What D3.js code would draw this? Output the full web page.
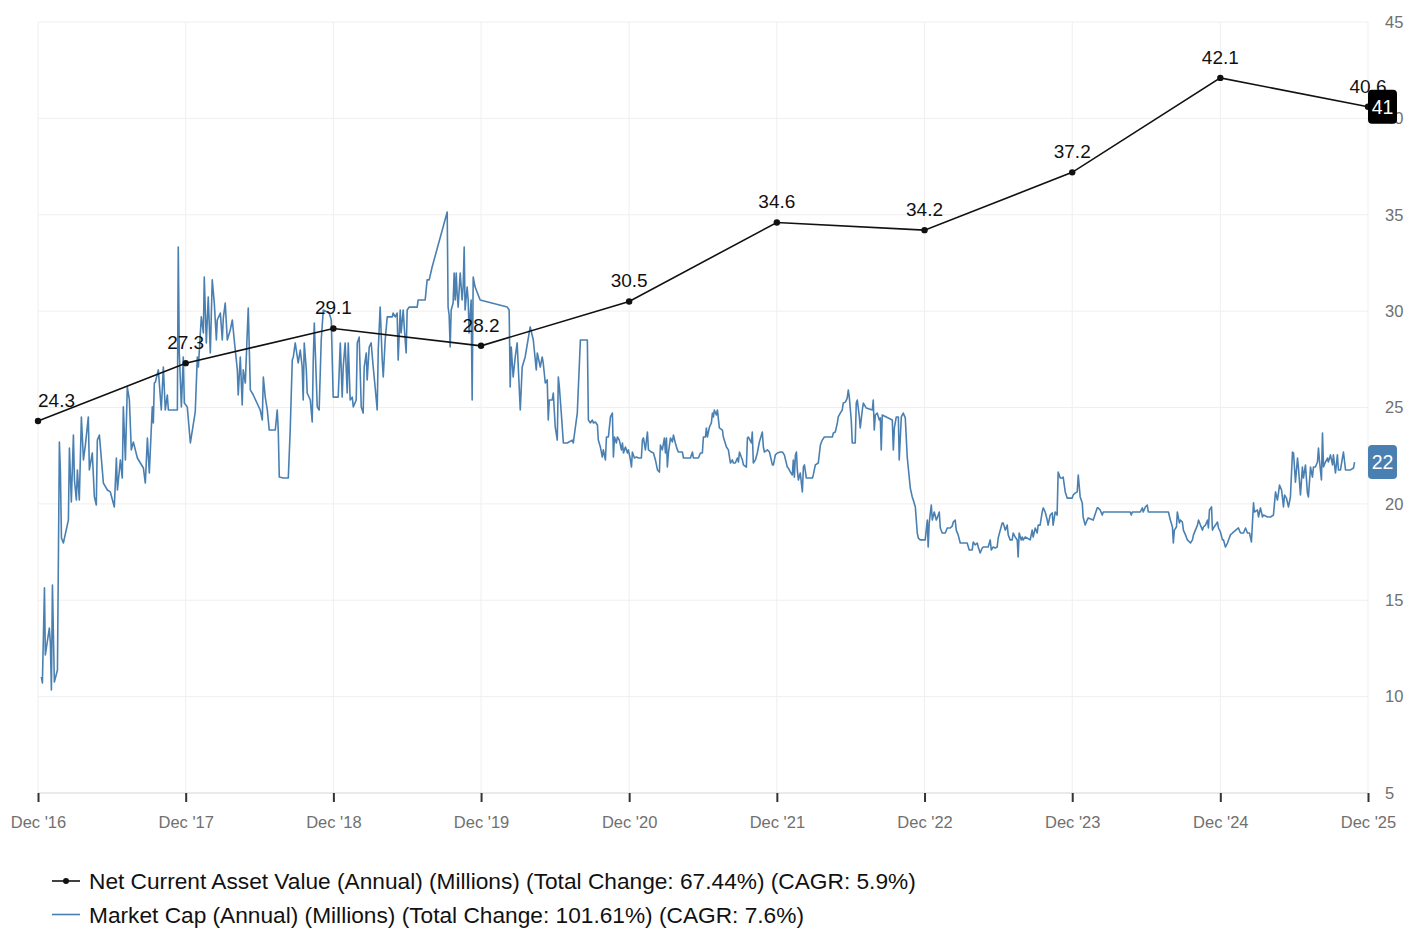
<!DOCTYPE html>
<html>
<head>
<meta charset="utf-8">
<script src="https://cdn.jsdelivr.net/npm/d3@7"></script>
<style>
html,body{margin:0;padding:0;background:#fff;}
svg{display:block;font-family:"Liberation Sans",Arial,Helvetica,sans-serif;}
</style>
</head>
<body>
<svg id="chart" width="1420" height="938"></svg>
<script>
// ---- Data ----
const ncavDates = ["2016-12-31","2017-12-31","2018-12-31","2019-12-31","2020-12-31","2021-12-31","2022-12-31","2023-12-31","2024-12-31","2025-12-31"];
const ncavValues = [24.3, 27.3, 29.1, 28.2, 30.5, 34.6, 34.2, 37.2, 42.1, 40.6];
const xTickLabels = ["Dec '16","Dec '17","Dec '18","Dec '19","Dec '20","Dec '21","Dec '22","Dec '23","Dec '24","Dec '25"];
const yTickValues = [5, 10, 15, 20, 25, 30, 35, 40, 45];
const legendLabels = [
  "Net Current Asset Value (Annual) (Millions) (Total Change: 67.44%) (CAGR: 5.9%)",
  "Market Cap (Annual) (Millions) (Total Change: 101.61%) (CAGR: 7.6%)"
];
const ncavBadge = "41";
const mcBadge = "22";

// market cap: decimal-year time stamps and values (millions)
const mcYears = [
2017.020,2017.027,2017.041,2017.047,2017.074,2017.081,2017.088,2017.095,2017.108,2017.129,2017.142,2017.149,2017.156,2017.169,2017.203,2017.210,2017.223,2017.237,2017.244,2017.257,2017.264,2017.277,2017.291,2017.305,2017.318,2017.338,2017.345,2017.365,2017.379,2017.392,2017.399,2017.413,2017.440,2017.467,2017.487,2017.514,2017.528,2017.535,2017.555,2017.568,2017.575,2017.589,2017.602,2017.616,2017.629,2017.643,2017.670,2017.711,2017.724,2017.738,2017.751,2017.771,2017.778,2017.785,2017.792,2017.812,2017.832,2017.846,2017.859,2017.873,2017.880,2017.914,2017.941,2017.947,2017.954,2017.968,2017.981,2017.988,
2018.008,2018.029,2018.062,2018.076,2018.083,2018.103,2018.117,2018.123,2018.137,2018.150,2018.164,2018.177,2018.191,2018.205,2018.211,2018.232,2018.245,2018.252,2018.265,2018.279,2018.299,2018.313,2018.326,2018.347,2018.353,2018.367,2018.380,2018.387,2018.401,2018.414,2018.421,2018.435,2018.455,2018.502,2018.516,2018.523,2018.536,2018.550,2018.563,2018.583,2018.604,2018.617,2018.624,2018.631,2018.658,2018.692,2018.705,2018.719,2018.726,2018.739,2018.753,2018.759,2018.773,2018.786,2018.793,2018.800,2018.814,2018.820,2018.841,2018.854,2018.861,2018.868,2018.881,2018.888,2018.901,2018.915,2018.929,2018.969,2018.983,2018.996,
2019.030,2019.044,2019.057,2019.064,2019.077,2019.091,2019.098,2019.111,2019.125,2019.132,2019.152,2019.159,2019.172,2019.186,2019.199,2019.206,2019.220,2019.226,2019.240,2019.253,2019.267,2019.280,2019.294,2019.301,2019.314,2019.328,2019.335,2019.348,2019.362,2019.382,2019.396,2019.402,2019.416,2019.429,2019.436,2019.450,2019.456,2019.470,2019.477,2019.490,2019.497,2019.511,2019.565,2019.571,2019.619,2019.632,2019.646,2019.666,2019.768,2019.774,2019.781,2019.788,2019.795,2019.808,2019.815,2019.822,2019.829,2019.835,2019.842,2019.856,2019.869,2019.876,2019.883,2019.889,2019.903,2019.910,2019.916,2019.930,2019.937,2019.944,2019.957,2019.991,
2020.174,2020.187,2020.194,2020.201,2020.214,2020.228,2020.241,2020.262,2020.275,2020.295,2020.329,2020.350,2020.370,2020.377,2020.397,2020.410,2020.417,2020.431,2020.444,2020.451,2020.458,2020.478,2020.485,2020.498,2020.512,2020.519,2020.526,2020.539,2020.553,2020.580,2020.613,2020.620,2020.647,2020.668,2020.715,2020.722,2020.735,2020.749,2020.756,2020.769,2020.783,2020.789,2020.803,2020.816,2020.823,2020.837,2020.844,2020.857,2020.871,2020.884,2020.891,2020.898,2020.911,2020.918,2020.931,2020.945,2020.952,2020.959,2020.972,2020.986,2020.992,
2021.006,2021.013,2021.019,2021.033,2021.047,2021.060,2021.080,2021.087,2021.094,2021.107,2021.121,2021.128,2021.148,2021.162,2021.175,2021.189,2021.202,2021.209,2021.222,2021.236,2021.243,2021.250,2021.256,2021.263,2021.277,2021.290,2021.297,2021.310,2021.324,2021.331,2021.358,2021.365,2021.412,2021.426,2021.432,2021.466,2021.480,2021.493,2021.500,2021.514,2021.520,2021.527,2021.541,2021.554,2021.561,2021.568,2021.574,2021.588,2021.595,2021.608,2021.629,2021.635,2021.656,2021.669,2021.683,2021.696,2021.703,2021.716,2021.730,2021.737,2021.744,2021.764,2021.771,2021.791,2021.798,2021.804,2021.825,2021.831,2021.838,2021.852,2021.865,2021.879,2021.899,2021.906,2021.913,2021.933,2021.947,2021.967,2021.974,2021.987,
2022.001,2022.021,2022.035,2022.048,2022.068,2022.075,2022.089,2022.102,2022.109,2022.116,2022.123,2022.130,2022.136,2022.143,2022.156,2022.170,2022.177,2022.184,2022.197,2022.238,2022.244,2022.258,2022.278,2022.292,2022.305,2022.319,2022.373,2022.380,2022.393,2022.407,2022.413,2022.427,2022.440,2022.447,2022.461,2022.474,2022.481,2022.488,2022.501,2022.508,2022.528,2022.535,2022.542,2022.556,2022.562,2022.576,2022.583,2022.603,2022.644,2022.650,2022.657,2022.664,2022.677,2022.691,2022.698,2022.704,2022.711,2022.779,2022.786,2022.793,2022.806,2022.820,2022.826,2022.840,2022.853,2022.867,2022.880,2022.901,2022.914,2022.921,2022.935,2022.948,2022.955,2022.968,
2023.002,2023.016,2023.022,2023.029,2023.043,2023.050,2023.063,2023.077,2023.083,2023.097,2023.104,2023.117,2023.138,2023.151,2023.171,2023.185,2023.192,2023.205,2023.212,2023.225,2023.239,2023.286,2023.300,2023.320,2023.327,2023.340,2023.354,2023.361,2023.374,2023.388,2023.395,2023.428,2023.442,2023.449,2023.462,2023.476,2023.489,2023.496,2023.510,2023.523,2023.530,2023.544,2023.557,2023.564,2023.577,2023.591,2023.598,2023.611,2023.625,2023.631,2023.638,2023.652,2023.659,2023.665,2023.679,2023.713,2023.726,2023.733,2023.747,2023.760,2023.767,2023.780,2023.794,2023.801,2023.814,2023.828,2023.834,2023.848,2023.862,2023.868,2023.882,2023.895,2023.902,2023.916,2023.929,2023.936,2023.950,2023.963,2023.997,
2024.004,2024.017,2024.031,2024.038,2024.051,2024.065,2024.071,2024.085,2024.098,2024.105,2024.139,2024.166,2024.173,2024.186,2024.200,2024.207,2024.389,2024.396,2024.403,2024.457,2024.471,2024.477,2024.491,2024.504,2024.511,2024.647,2024.660,2024.674,2024.680,2024.687,2024.701,2024.707,2024.721,2024.728,2024.741,2024.748,2024.762,2024.775,2024.796,2024.809,2024.816,2024.829,2024.843,2024.850,2024.863,2024.877,2024.883,2024.897,2024.911,2024.917,2024.924,2024.938,2024.944,2024.951,2024.965,2024.978,2024.985,2024.998,
2025.012,2025.019,2025.032,2025.046,2025.053,2025.066,2025.080,2025.120,2025.134,2025.154,2025.168,2025.181,2025.195,2025.208,2025.222,2025.228,2025.249,2025.256,2025.269,2025.283,2025.290,2025.317,2025.337,2025.357,2025.371,2025.384,2025.391,2025.398,2025.412,2025.425,2025.432,2025.445,2025.459,2025.472,2025.486,2025.493,2025.506,2025.520,2025.526,2025.540,2025.553,2025.560,2025.574,2025.587,2025.594,2025.608,2025.621,2025.628,2025.641,2025.655,2025.662,2025.668,2025.682,2025.689,2025.696,2025.709,2025.723,2025.729,2025.743,2025.757,2025.763,2025.777,2025.790,2025.797,2025.811,2025.824,2025.831,2025.845,2025.879,2025.899,2025.906
];
const mcValues = [
11.02,10.71,15.64,12.16,13.56,12.78,10.34,15.79,10.76,11.38,23.21,21.65,18.23,17.97,19.16,22.90,20.10,23.57,21.24,20.20,21.76,20.20,24.51,22.28,23.05,24.51,21.76,22.64,20.36,19.94,23.31,23.57,21.08,20.72,20.62,19.84,22.38,20.72,22.28,21.34,25.03,22.28,26.06,25.39,22.80,23.21,22.38,21.86,21.08,23.42,21.60,25.03,24.20,26.27,26.32,26.95,24.87,27.10,24.87,25.65,24.87,24.87,24.87,33.33,27.83,25.03,27.62,25.23,
25.03,23.16,24.77,27.62,27.10,29.70,28.87,31.77,28.35,30.73,27.83,31.62,30.42,28.50,29.54,29.90,28.50,29.64,30.42,28.50,29.02,29.54,28.50,26.95,25.65,27.62,25.13,26.95,26.27,28.87,30.16,25.91,25.65,24.87,24.35,26.58,25.54,24.87,23.83,23.83,23.83,24.87,23.83,21.39,21.34,21.34,23.83,27.46,27.62,28.35,27.62,27.31,27.98,27.10,25.39,28.35,26.95,25.75,25.39,24.25,27.46,29.38,26.58,25.03,24.87,28.50,30.06,29.90,29.54,25.54,
25.54,28.35,25.54,27.10,28.35,25.75,28.35,25.39,25.54,25.03,25.39,28.35,28.66,25.03,24.71,27.10,27.83,26.43,28.14,28.35,27.10,26.06,24.87,27.98,30.21,27.46,26.58,28.50,29.70,29.70,29.70,29.90,29.70,29.90,27.46,30.06,28.87,30.06,29.18,27.83,30.06,30.21,30.21,30.58,30.58,31.62,31.62,32.29,35.14,30.21,29.80,28.14,30.06,30.42,31.98,30.58,31.98,30.94,30.21,31.98,30.58,31.25,33.33,30.06,31.25,30.58,28.87,30.58,25.39,31.77,31.25,30.58,
30.21,30.06,26.06,28.14,26.58,27.62,28.35,24.87,27.10,27.62,29.18,28.50,26.95,27.83,27.10,27.62,27.31,26.27,26.43,24.35,25.39,25.39,25.75,23.99,23.31,26.58,26.06,24.71,23.16,23.16,23.31,23.16,24.71,28.50,28.50,24.35,24.20,24.35,24.20,24.25,24.09,23.31,22.95,22.43,22.80,22.28,23.47,23.47,24.51,24.71,22.43,23.47,23.16,23.47,23.31,22.80,23.16,22.64,22.95,22.64,22.80,
22.28,21.91,22.69,22.38,22.43,22.38,22.38,23.31,23.42,22.80,23.73,22.80,22.69,22.64,22.28,21.76,21.65,23.05,22.80,23.42,22.64,23.42,21.91,22.64,23.42,23.21,23.57,23.16,22.80,22.69,22.69,22.38,22.38,22.69,22.38,22.38,22.64,22.64,23.47,23.47,23.94,23.47,23.99,24.20,24.71,24.51,24.87,24.61,24.87,23.94,23.83,23.47,22.95,22.80,22.12,22.28,22.12,22.12,22.38,22.17,22.69,22.28,22.02,21.91,23.42,23.47,23.16,23.73,22.12,22.28,22.64,23.21,23.73,22.95,22.69,22.80,22.69,22.02,22.02,22.54,
22.64,22.69,22.69,22.54,21.91,21.86,21.65,21.50,22.28,21.39,22.54,22.69,21.76,21.24,21.60,20.62,21.91,22.02,21.34,21.34,21.50,22.02,22.12,23.05,23.31,23.47,23.47,23.68,23.73,24.20,24.51,24.71,24.87,25.23,25.28,25.49,25.91,25.54,24.35,23.16,23.16,25.23,25.39,24.51,23.94,24.87,25.23,24.97,24.87,25.39,23.83,24.61,24.71,24.35,24.46,22.80,24.61,24.35,22.80,23.94,24.51,24.51,22.28,24.51,24.71,24.46,22.43,20.82,20.36,20.20,19.84,18.49,18.23,18.13,
18.13,19.16,17.76,19.01,19.94,19.16,19.58,19.16,19.27,19.58,18.75,18.49,18.49,18.75,18.75,18.85,19.06,19.16,18.64,18.39,17.97,17.97,17.61,17.61,18.02,17.87,17.97,17.76,17.45,17.71,17.76,17.76,18.13,17.61,17.76,17.71,17.76,18.23,18.64,19.01,19.01,18.64,18.90,18.39,18.13,18.13,18.49,18.28,18.13,17.24,18.49,18.13,18.28,18.13,18.28,18.13,18.64,18.28,18.75,18.49,18.90,18.90,19.58,19.79,19.58,19.16,18.90,19.42,19.53,18.90,19.58,19.42,21.65,21.34,21.34,21.39,20.62,20.30,20.30,
20.46,20.56,20.62,21.50,20.36,20.05,19.32,18.90,19.16,19.27,19.16,19.79,19.79,19.68,19.42,19.58,19.58,19.42,19.58,19.58,19.79,19.58,19.84,19.94,19.58,19.58,19.16,18.80,17.97,18.64,18.80,19.58,19.01,19.16,19.06,18.64,18.39,18.13,17.97,18.13,18.39,18.64,18.90,19.16,18.90,18.64,18.80,18.90,19.16,18.75,19.68,19.84,18.64,18.75,18.90,19.06,18.75,18.54,
18.13,18.13,17.76,17.97,18.13,18.39,18.49,18.75,18.49,18.49,18.75,18.49,18.49,18.02,20.05,19.58,19.68,19.32,19.79,19.32,19.42,19.32,19.32,19.42,20.62,20.20,20.56,20.98,20.72,19.84,20.46,20.30,19.84,20.36,22.69,22.64,21.13,22.38,21.91,20.46,21.91,21.34,22.02,20.56,20.36,21.91,21.39,21.91,21.91,22.17,22.90,22.28,21.24,23.68,21.91,22.17,22.38,22.17,22.54,22.02,22.54,21.60,22.54,21.76,21.76,22.38,22.69,21.76,21.76,21.86,22.17
];

// ---- Setup ----
const W = 1420, H = 938;
const FONT = '"Liberation Sans",Arial,Helvetica,sans-serif';
const svg = d3.select("#chart");
const parse = d3.utcParse("%Y-%m-%d");
function decYear(t){
  const yr = Math.floor(t);
  const a = Date.UTC(yr,0,1), b = Date.UTC(yr+1,0,1);
  return new Date(a + (t - yr) * (b - a));
}
const tickDates = ncavDates.map(parse);
const x = d3.scaleUtc()
  .domain([tickDates[0], tickDates[tickDates.length-1]])
  .range([38, 1368]);
const y = d3.scaleLinear().domain([5, 45]).range([793, 22]);
const [xL, xR] = x.range();

const BLUE = "#4a80b1";

// grid
svg.append("g").selectAll("line").data(yTickValues).join("line")
  .attr("x1", xL).attr("x2", xR)
  .attr("y1", d => y(d)).attr("y2", d => y(d))
  .attr("stroke", "#efefef").attr("stroke-width", 1);
svg.append("g").selectAll("line").data(tickDates).join("line")
  .attr("x1", d => x(d)).attr("x2", d => x(d))
  .attr("y1", y(45)).attr("y2", y(5))
  .attr("stroke", "#efefef").attr("stroke-width", 1);
svg.append("line").attr("x1", xL).attr("x2", xR)
  .attr("y1", y(5)).attr("y2", y(5)).attr("stroke", "#dddddd").attr("stroke-width", 1);

// x axis
const xAxis = d3.axisBottom(x).tickValues(tickDates)
  .tickFormat((d,i) => xTickLabels[i]).tickSize(9).tickPadding(14);
const gx = svg.append("g").attr("transform", `translate(0,${y(5)})`).call(xAxis);
gx.select(".domain").remove();
gx.selectAll(".tick line").attr("stroke", "#333").attr("stroke-width", 2);
gx.selectAll(".tick text").attr("fill", "#707070").attr("font-size", 16.5)
  .attr("font-family", FONT);

// y axis (right)
const yAxis = d3.axisRight(y).tickValues(yTickValues).tickSize(0).tickPadding(17);
const gy = svg.append("g").attr("transform", `translate(${xR},0)`).call(yAxis);
gy.select(".domain").remove();
gy.selectAll(".tick text").attr("fill", "#707070").attr("font-size", 16.5)
  .attr("font-family", FONT);

// market cap line
const mcData = mcYears.map((t,i) => ({date: decYear(t), v: mcValues[i]}));
svg.append("path").datum(mcData)
  .attr("fill", "none").attr("stroke", BLUE).attr("stroke-width", 1.6)
  .attr("stroke-linejoin", "round")
  .attr("d", d3.line().x(d => x(d.date)).y(d => y(d.v)));

// ncav line
const ncavData = ncavDates.map((d,i) => ({date: parse(d), v: ncavValues[i]}));
svg.append("path").datum(ncavData)
  .attr("fill", "none").attr("stroke", "#111").attr("stroke-width", 1.6)
  .attr("d", d3.line().x(d => x(d.date)).y(d => y(d.v)));
svg.append("g").selectAll("circle").data(ncavData).join("circle")
  .attr("cx", d => x(d.date)).attr("cy", d => y(d.v)).attr("r", 3.2).attr("fill", "#111");
const labels = svg.append("g").selectAll("text").data(ncavData).join("text")
  .attr("x", d => x(d.date)).attr("y", d => y(d.v) - 14)
  .attr("text-anchor", "middle").attr("font-size", 19).attr("fill", "#111")
  .text(d => d.v.toFixed(1));
// keep labels inside the plot on the left
labels.each(function(){
  const bb = this.getBBox();
  if (bb.x < xL) d3.select(this).attr("x", +d3.select(this).attr("x") + (xL - bb.x));
});

// badges
function badge(val, label, color){
  const cy = y(val), cx = xR + 14.5;
  svg.append("rect").attr("x", cx - 14.5).attr("y", cy - 17).attr("width", 29).attr("height", 34)
    .attr("rx", 4).attr("fill", color);
  svg.append("text").attr("x", cx).attr("y", cy + 7).attr("text-anchor", "middle")
    .attr("font-size", 19.5).attr("fill", "#fff").text(label);
}
badge(ncavValues[ncavValues.length-1], ncavBadge, "#000");
badge(mcValues[mcValues.length-1], mcBadge, BLUE);

// legend
const lg = svg.append("g");
[0,1].forEach(i => {
  const ly = 881 + i*33.5;
  lg.append("line").attr("x1", 52).attr("x2", 80).attr("y1", ly).attr("y2", ly)
    .attr("stroke", i === 0 ? "#111" : BLUE).attr("stroke-width", 1.6);
  if (i === 0) lg.append("circle").attr("cx", 66).attr("cy", ly).attr("r", 3).attr("fill", "#111");
  lg.append("text").attr("x", 89).attr("y", ly + 8).attr("font-size", 22.7).attr("fill", "#111")
    .text(legendLabels[i]);
});
</script>
</body>
</html>
